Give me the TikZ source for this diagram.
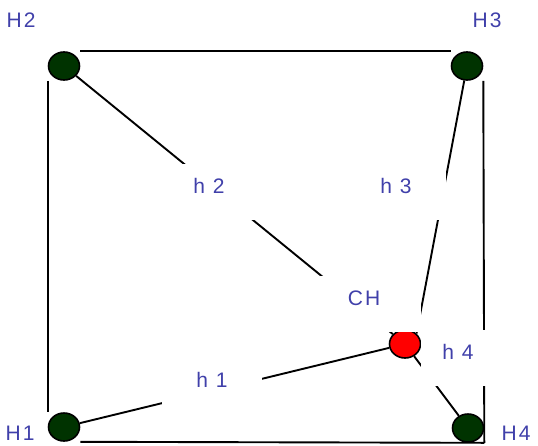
\documentclass[tikz,border=0pt]{standalone}
\usepackage{fontspec}
\usetikzlibrary{shapes.geometric}
\newfontfamily\etiqfont{Liberation Sans}[LetterSpace=10]
\definecolor{textoazul}{RGB}{64,64,170}
\definecolor{verdeosc}{RGB}{0,51,0}
\tikzset{
  host/.style={ellipse, draw=black, line width=1.6pt, fill=verdeosc,
    minimum width=31pt, minimum height=28pt, inner sep=0pt},
  cabeza/.style={host, fill=red},
  etiq/.style={text=textoazul, font=\etiqfont\fontsize{21}{24}\selectfont, inner sep=0pt},
  caja/.style={etiq, fill=white, minimum height=56pt, text height=15pt, text depth=12pt},
  enlace/.style={line width=1.9pt}
}
\begin{document}
\begin{tikzpicture}[x=1pt, y=-1pt]
    \useasboundingbox (0,0) rectangle (538,445);

    % Nodos (hosts y cabeza)
    \node[host] (H2) at (64,66) {};
    \node[host] (H3) at (467,66) {};
    \node[host] (H1) at (64,427) {};
    \node[host] (H4) at (468,428) {};
    \node[cabeza] (CH) at (405,344) {};

    % Nombres de los hosts
    \node[etiq] (nH2) at (21,20) {H2};
    \node[etiq] (nH3) at (487,20) {H3};
    \node[etiq] (nH1) at (20,433) {H1};
    \node[etiq] (nH4) at (516,433) {H4};

    % Lados del cuadrado
    \draw[enlace] (H2.east |- H2.north) -- (H3.west |- H3.north);
    \draw[enlace] (H2.west |- H2.south) -- (H1.west |- H1.north);
    \draw[enlace] (H1.east |- H1.south) -- (H4.east |- H4.south);
    \draw[enlace] (H3.east |- H3.south) -- (H4.east |- H4.south);

    % Enlaces hacia CH
    \draw[enlace] (H2) -- (CH);
    \draw[enlace] (H3) -- (CH.north east);
    \draw[enlace] (H1) -- (CH);
    \draw[enlace] (CH) -- (H4);

    % Etiquetas sobre los enlaces
    \node[caja, minimum width=100pt] (h2) at (209,192) {h 2};
    \node[caja, minimum width=100pt] (h3) at (396,192) {h 3};
    \node[caja, minimum width=100pt] (h1) at (212,386) {h 1};
    \node[caja, minimum width=74pt] (h4) at (458,358) {h 4};
    \node[caja, minimum width=114pt] (lCH) at (364,304) {CH};
\end{tikzpicture}
\end{document}
